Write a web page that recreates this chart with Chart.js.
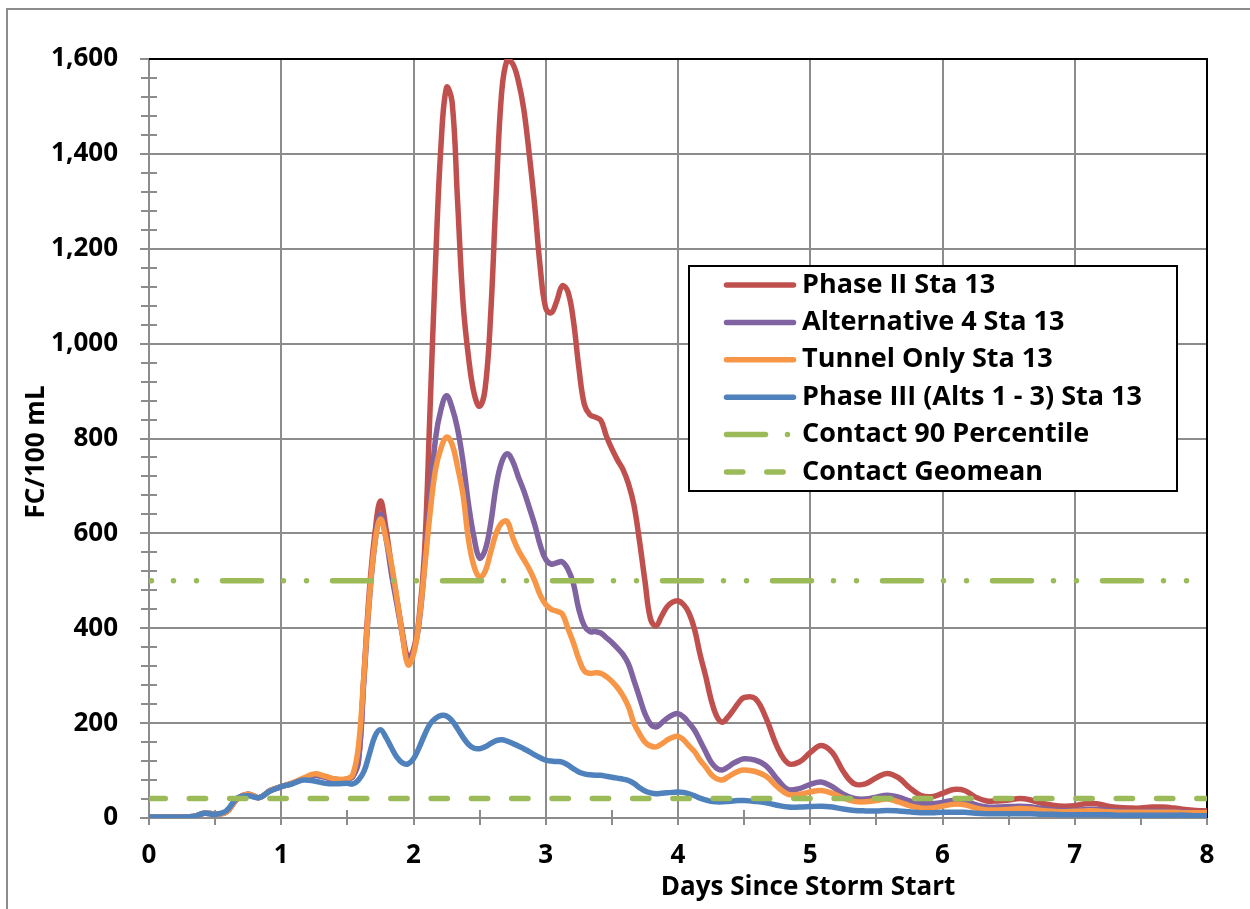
<!DOCTYPE html>
<html>
<head>
<meta charset="utf-8">
<title>FC/100 mL at Sta 13</title>
<script src="https://cdn.jsdelivr.net/npm/chart.js@4.4.1/dist/chart.umd.min.js"></script>
<style>
  html, body { margin: 0; padding: 0; background: #fff; }
  canvas { display: block; }
</style>
</head>
<body>
<canvas id="chart" width="1250" height="909"></canvas>
<script>
// Sample times, in hours since storm start (hourly through the peak, two-hourly elsewhere)
const hours = [
  0, 2, 4, 6, 8, 10, 12, 14, 16, 18, 20, 22, 24, 26, 28, 30, 32, 34, 36,
  37, 38, 39, 40, 41, 42, 43, 44, 45, 46, 47, 48, 49, 50, 51, 52, 53, 54, 55, 56,
  57, 58, 59, 60, 61, 62, 63, 64, 65, 66, 67, 68, 69, 70, 71, 72, 73, 74, 75, 76,
  77, 78, 79, 80, 81, 82, 83, 84, 85, 86, 87, 88, 89, 90, 91, 92, 93, 94, 95, 96,
  97, 98, 99, 100, 101, 102, 103, 104, 105, 106, 107, 108,
  110, 112, 114, 116, 118, 120, 122, 124, 126, 128, 130, 132, 134, 136, 138, 140,
  142, 144, 146, 148, 150, 152, 154, 156, 158, 160, 162, 164, 166, 168, 170, 172,
  174, 176, 178, 180, 182, 184, 186, 188, 190, 192
];

// FC/100 mL, one value per sample time
const phase2 = [
  2, 2, 2, 2, 3, 10, 9, 12, 40, 50, 43, 58, 66, 73, 82, 90, 86, 81, 82,
  88, 120, 300, 480, 600, 668, 610, 530, 460, 390, 338, 355, 420, 560, 860, 1170, 1420, 1540, 1510, 1300,
  1085, 970, 895, 868, 905, 1060, 1315, 1530, 1598, 1590, 1555, 1495, 1400, 1290, 1160, 1075, 1065, 1090, 1122, 1110,
  1050, 950, 872, 850, 845, 838, 805, 778, 755, 735, 705, 660, 585, 500, 420, 405, 425, 445, 455, 458,
  450, 432, 398, 345, 300, 250, 215, 202, 212, 227, 243, 254,
  252, 210, 150, 115, 118, 138, 153, 138, 98, 72, 72, 85, 94, 85, 64, 48,
  45, 52, 60, 58, 44, 36, 36, 38, 41, 38, 31, 27, 25, 26, 30, 30,
  25, 22, 21, 21, 23, 23, 21, 18, 16, 15
];
const alt4 = [
  2, 2, 2, 2, 3, 10, 9, 12, 40, 50, 43, 58, 66, 73, 82, 90, 86, 81, 82,
  88, 120, 290, 460, 580, 640, 590, 515, 450, 385, 332, 350, 410, 530, 670, 800, 862, 890, 865, 820,
  750, 660, 590, 548, 565, 620, 700, 750, 768, 752, 720, 690, 655, 618, 575, 545, 535, 538, 540, 525,
  495, 440, 405, 393, 393, 390, 380, 370, 358, 345, 325, 290, 255, 220, 198, 192, 200, 210, 217, 220,
  213, 200, 185, 163, 140, 118, 105, 101, 107, 115, 121, 125,
  122, 110, 82, 60, 62, 71, 76, 66, 50, 41, 40, 44, 48, 44, 36, 31,
  30, 33, 37, 35, 28, 23, 23, 24, 25, 24, 20, 17, 16, 16, 18, 18,
  16, 14, 13, 13, 14, 14, 13, 12, 11, 11
];
const tunnelOnly = [
  2, 2, 2, 2, 3, 10, 9, 12, 40, 50, 43, 58, 66, 74, 84, 93, 88, 82, 83,
  92, 150, 300, 466, 580, 630, 590, 535, 462, 385, 323, 345, 415, 525, 642, 735, 780, 803, 788, 740,
  680, 585, 530, 508, 520, 560, 600, 622, 625, 592, 565, 545, 525, 500, 470, 450, 440, 436, 430, 400,
  370, 335, 310, 305, 306, 305, 298, 288, 275, 258, 235, 200, 178, 160, 152, 150, 156, 164, 170, 172,
  165, 152, 140, 122, 108, 92, 83, 80, 86, 93, 99, 101,
  98, 88, 66, 50, 50, 55, 58, 52, 42, 35, 34, 37, 40, 34, 26, 21,
  21, 25, 29, 28, 21, 17, 17, 18, 20, 19, 16, 14, 13, 14, 15, 15,
  13, 12, 12, 12, 12, 12, 12, 11, 11, 11
];
const phase3 = [
  2, 2, 2, 2, 3, 10, 8, 15, 42, 47, 43, 57, 66, 72, 80, 78, 73, 72, 73,
  72, 80, 98, 135, 172, 186, 170, 148, 128, 116, 114, 125, 148, 175, 198, 210, 216, 215, 205, 188,
  170, 155, 147, 146, 150, 157, 163, 165, 162, 157, 152, 146, 140, 133, 127, 122, 120, 119, 118, 112,
  104, 97, 93, 91, 90, 90, 88, 86, 84, 82, 79, 73, 64, 57, 53, 51, 52, 53, 54, 55,
  54, 51, 47, 42, 38, 35, 34, 34, 35, 36, 37, 37,
  35, 32, 27, 23, 23, 24, 25, 23, 19, 16, 15, 15, 16, 15, 13, 11,
  11, 12, 12, 12, 10, 9, 9, 9, 9, 9, 8, 8, 7, 7, 7, 7,
  7, 6, 6, 6, 6, 6, 6, 6, 5, 5
];

// Contact recreation criteria, FC/100 mL
const contact90Percentile = 500;
const contactGeomean = 41;

// Axis ranges
const dayRange = [0, 8];
const fcRange = [0, 1600];
const fcStep = 200;
const fcMinorStep = 40;

const seriesNames = [
  'Phase II Sta 13',
  'Alternative 4 Sta 13',
  'Tunnel Only Sta 13',
  'Phase III (Alts 1 - 3) Sta 13',
  'Contact 90 Percentile',
  'Contact Geomean'
];

const RED = '#C0504D', PURPLE = '#8064A2', ORANGE = '#F79646', BLUE = '#4F81BD', GREEN = '#9BBB59';
const GRID = '#8c8c8c';
const FONT = '"Open Sans", "Noto Sans", sans-serif';

const toPoints = vals => hours.map((h, i) => ({ x: h / 24, y: vals[i] }));
const flatLine = v => [{ x: dayRange[0], y: v }, { x: dayRange[1], y: v }];

function seriesLine(label, color, vals, order) {
  return {
    label, data: toPoints(vals), borderColor: color, backgroundColor: color,
    borderWidth: 5.5, tension: 0.4, pointRadius: 0, pointHoverRadius: 0,
    borderCapStyle: 'round', borderJoinStyle: 'round', order
  };
}

const datasets = [
  seriesLine(seriesNames[0], RED, phase2, 5),
  seriesLine(seriesNames[1], PURPLE, alt4, 4),
  seriesLine(seriesNames[2], ORANGE, tunnelOnly, 3),
  seriesLine(seriesNames[3], BLUE, phase3, 2),
  {
    label: seriesNames[4], data: flatLine(contact90Percentile), borderColor: GREEN,
    borderWidth: 5.5, pointRadius: 0, borderCapStyle: 'round',
    borderDash: [39, 22, 0, 23, 0, 26], borderDashOffset: 36.5, order: 1,
    legendDashOffset: 0
  },
  {
    label: seriesNames[5], data: flatLine(contactGeomean), borderColor: GREEN,
    borderWidth: 5.5, pointRadius: 0, borderCapStyle: 'round',
    borderDash: [16.3, 24], borderDashOffset: 0, order: 0,
    legendDashOffset: 0
  }
];

// Outer frame, plot border, minor ticks, axis titles and the boxed legend
const decorations = {
  id: 'decorations',
  beforeDraw(chart) {
    const ctx = chart.ctx;
    ctx.save();
    ctx.fillStyle = '#fff';
    ctx.fillRect(0, 0, chart.width, chart.height);
    ctx.strokeStyle = GRID;
    ctx.lineWidth = 2;
    ctx.strokeRect(7, 9, chart.width + 20, chart.height + 20);
    ctx.restore();
  },
  beforeDatasetsDraw(chart) {
    const { ctx, chartArea: a, scales: { x, y } } = chart;
    ctx.save();
    ctx.strokeStyle = GRID;
    ctx.lineWidth = 2;
    ctx.beginPath();
    for (let v = fcRange[0] + fcMinorStep; v < fcRange[1]; v += fcMinorStep) {
      if (v % fcStep === 0) continue;
      const py = Math.round(y.getPixelForValue(v));
      ctx.moveTo(a.left - 8, py);
      ctx.lineTo(a.left + 8, py);
    }
    for (let d = dayRange[0] + 0.5; d < dayRange[1]; d += 1) {
      const px = Math.round(x.getPixelForValue(d));
      ctx.moveTo(px, a.bottom - 8);
      ctx.lineTo(px, a.bottom + 7);
    }
    ctx.stroke();
    ctx.strokeStyle = '#000';
    ctx.beginPath();
    ctx.moveTo(a.left, a.top);
    ctx.lineTo(a.right, a.top);
    ctx.lineTo(a.right, a.bottom);
    ctx.stroke();
    ctx.restore();
  },
  afterDraw(chart) {
    const ctx = chart.ctx;
    ctx.save();
    ctx.fillStyle = '#000';
    ctx.font = 'bold 26px ' + FONT;
    ctx.textAlign = 'center';
    ctx.textBaseline = 'middle';
    ctx.fillText('Days Since Storm Start', 808, 888);
    ctx.translate(37, 452);
    ctx.rotate(-Math.PI / 2);
    ctx.fillText('FC/100 mL', 0, 0);
    ctx.restore();

    // legend box
    const box = { left: 689, top: 266, right: 1177, bottom: 491 };
    ctx.save();
    ctx.fillStyle = '#fff';
    ctx.fillRect(box.left, box.top, box.right - box.left, box.bottom - box.top);
    ctx.strokeStyle = '#000';
    ctx.lineWidth = 2;
    ctx.strokeRect(box.left, box.top, box.right - box.left, box.bottom - box.top);
    const rowH = 37.4;
    chart.data.datasets.forEach((ds, i) => {
      const cy = 285 + i * rowH;
      ctx.save();
      ctx.strokeStyle = ds.borderColor;
      ctx.lineWidth = ds.borderWidth;
      ctx.lineCap = 'round';
      ctx.setLineDash(ds.borderDash || []);
      ctx.lineDashOffset = ds.legendDashOffset || 0;
      ctx.beginPath();
      ctx.moveTo(726.5, cy);
      ctx.lineTo(793.5, cy);
      ctx.stroke();
      ctx.restore();
      ctx.fillStyle = '#000';
      ctx.font = 'bold 27px ' + FONT;
      ctx.textAlign = 'left';
      ctx.textBaseline = 'middle';
      ctx.fillText(ds.label, 802, cy);
    });
    ctx.restore();
  }
};

function build() {
  new Chart(document.getElementById('chart'), {
    type: 'line',
    data: { datasets },
    options: {
      responsive: false,
      devicePixelRatio: 1,
      animation: false,
      events: [],
      layout: { padding: { left: 0, top: 59, right: 43, bottom: 0 } },
      plugins: { legend: { display: false }, tooltip: { enabled: false }, title: { display: false } },
      scales: {
        x: {
          type: 'linear', min: dayRange[0], max: dayRange[1],
          afterFit: s => { s.height = 91; },
          grid: { color: GRID, lineWidth: 2, tickLength: 7, tickColor: GRID },
          border: { color: GRID, width: 2 },
          ticks: { stepSize: 1, color: '#000', padding: 15, font: { family: FONT, size: 26, weight: 'bold' } }
        },
        y: {
          type: 'linear', min: fcRange[0], max: fcRange[1],
          afterFit: s => { s.width = 149; },
          grid: { color: GRID, lineWidth: 2, tickLength: 9, tickColor: GRID },
          border: { color: GRID, width: 2 },
          ticks: {
            stepSize: fcStep, color: '#000', padding: 22,
            font: { family: FONT, size: 26, weight: 'bold' },
            callback: v => v.toLocaleString('en-US')
          }
        }
      }
    },
    plugins: [decorations]
  });
}

if (document.fonts && document.fonts.load) {
  Promise.all([document.fonts.load('bold 26px "Open Sans"')]).then(build, build);
} else {
  build();
}
</script>
</body>
</html>
